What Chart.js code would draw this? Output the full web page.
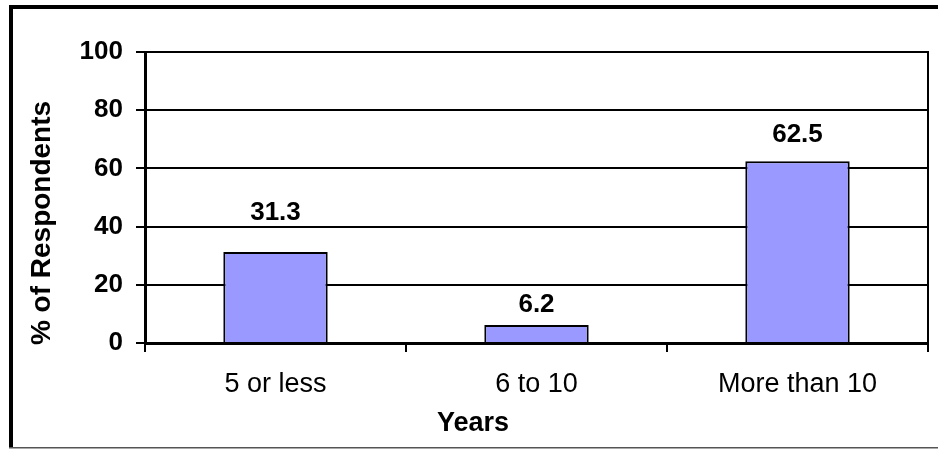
<!DOCTYPE html>
<html>
<head>
<meta charset="utf-8">
<script src="https://cdn.jsdelivr.net/npm/chart.js@4/dist/chart.umd.min.js"></script>
<style>
  html, body { margin: 0; padding: 0; background: #fff; }
  #wrap { width: 938px; height: 449px; }
</style>
</head>
<body>
<div id="wrap"><canvas id="c" width="938" height="449"></canvas></div>
<script>
// Survey: years of experience of respondents
const categories = ['5 or less', '6 to 10', 'More than 10'];
const percentRespondents = [31.3, 6.2, 62.5];
const yTicks = [0, 20, 40, 60, 80, 100];

const FONT = '"Liberation Sans", Arial, Helvetica, sans-serif';

// Outer frame of the chart object
const framePlugin = {
  id: 'frame',
  beforeDraw(chart) {
    const ctx = chart.ctx;
    ctx.save();
    ctx.fillStyle = '#fff';
    ctx.fillRect(0, 0, chart.width, chart.height);
    ctx.fillStyle = '#000';
    ctx.fillRect(9, 5, chart.width - 9, 4);
    ctx.fillRect(9, 5, 4, chart.height - 7);
    ctx.fillStyle = '#555';
    ctx.fillRect(9, chart.height - 2, chart.width - 9, 1.5);
    ctx.restore();
  }
};

// Plot-area border
const plotBorderPlugin = {
  id: 'plotBorder',
  afterDatasetsDraw(chart) {
    const { ctx, chartArea: a } = chart;
    ctx.save();
    ctx.strokeStyle = '#000';
    ctx.lineWidth = 2;
    ctx.beginPath();
    ctx.moveTo(a.left, a.top);
    ctx.lineTo(a.right, a.top);
    ctx.lineTo(a.right, a.bottom);
    ctx.stroke();
    ctx.restore();
  }
};

// Value labels above each bar
const valueLabelPlugin = {
  id: 'valueLabels',
  afterDatasetsDraw(chart, args, opts) {
    const ctx = chart.ctx;
    const meta = chart.getDatasetMeta(0);
    ctx.save();
    ctx.font = 'bold 26px ' + FONT;
    ctx.fillStyle = '#000';
    ctx.textAlign = 'center';
    ctx.textBaseline = 'alphabetic';
    meta.data.forEach((bar, i) => {
      const v = chart.data.datasets[0].data[i];
      ctx.fillText(v.toFixed(1), bar.x, bar.y - opts.gaps[i]);
    });
    ctx.restore();
  }
};

// Axis titles
const axisTitlePlugin = {
  id: 'axisTitles',
  afterDraw(chart, args, opts) {
    const ctx = chart.ctx;
    ctx.save();
    ctx.fillStyle = '#000';
    ctx.textAlign = 'center';
    ctx.textBaseline = 'middle';
    ctx.font = 'bold 28px ' + FONT;
    ctx.translate(opts.y.x, opts.y.y);
    ctx.rotate(-Math.PI / 2);
    ctx.fillText(opts.y.text, 0, 0);
    ctx.restore();
    ctx.save();
    ctx.fillStyle = '#000';
    ctx.textAlign = 'center';
    ctx.textBaseline = 'middle';
    ctx.font = 'bold 27px ' + FONT;
    ctx.fillText(opts.x.text, opts.x.x, opts.x.y);
    ctx.restore();
  }
};

new Chart(document.getElementById('c'), {
  type: 'bar',
  data: {
    labels: categories,
    datasets: [{
      data: percentRespondents,
      backgroundColor: '#9999FF',
      borderColor: '#000',
      borderWidth: 2,
      borderSkipped: 'bottom',
      categoryPercentage: 1,
      barPercentage: 0.40
    }]
  },
  options: {
    responsive: false,
    animation: false,
    devicePixelRatio: 1,
    layout: { padding: { left: 0, top: 52, right: 10, bottom: 0 } },
    plugins: {
      legend: { display: false },
      tooltip: { enabled: false },
      valueLabels: { gaps: [32, 13, 19] },
      axisTitles: {
        y: { text: '% of Respondents', x: 42, y: 223 },
        x: { text: 'Years', x: 473, y: 424 }
      }
    },
    scales: {
      x: {
        type: 'category',
        offset: true,
        afterFit(scale) { scale.height = 106; },
        grid: {
          display: true,
          offset: true,
          drawOnChartArea: false,
          drawTicks: true,
          tickLength: 9,
          color: '#000',
          lineWidth: 2
        },
        border: { display: true, color: '#000', width: 3 },
        ticks: {
          color: '#000',
          font: { family: FONT, size: 27 },
          padding: 16,
          maxRotation: 0,
          autoSkip: false
        }
      },
      y: {
        min: 0,
        max: 100,
        afterFit(scale) { scale.width = 145; },
        afterBuildTicks(scale) { scale.ticks = yTicks.map(v => ({ value: v })); },
        grid: {
          display: true,
          drawOnChartArea: true,
          drawTicks: true,
          tickLength: 9,
          color: '#000',
          lineWidth: 2
        },
        border: { display: true, color: '#000', width: 3 },
        ticks: {
          color: '#000',
          font: { family: FONT, size: 26, weight: 'bold' },
          padding: 13
        }
      }
    }
  },
  plugins: [framePlugin, plotBorderPlugin, valueLabelPlugin, axisTitlePlugin]
});
</script>
</body>
</html>
